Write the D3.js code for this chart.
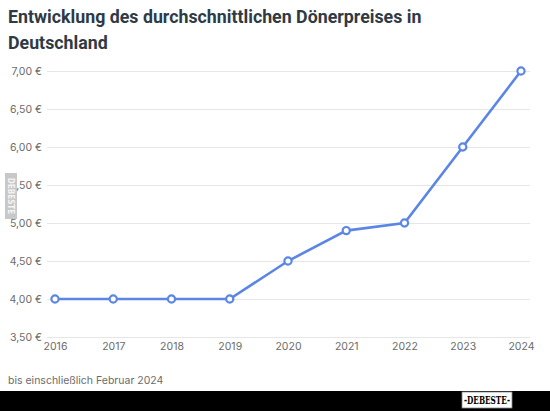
<!DOCTYPE html>
<html><head><meta charset="utf-8">
<script src="https://cdn.jsdelivr.net/npm/d3@7"></script>
<style>body{margin:0;background:#fff;} svg{display:block;}</style>
</head><body>
<svg id="c" width="550" height="411"></svg>
<script>
const years = ["2016","2017","2018","2019","2020","2021","2022","2023","2024"];
const prices = [4.0, 4.0, 4.0, 4.0, 4.5, 4.9, 5.0, 6.0, 7.0];
const yTicks = [3.5, 4.0, 4.5, 5.0, 5.5, 6.0, 6.5, 7.0];
const titleLines = ["Entwicklung des durchschnittlichen Dönerpreises in", "Deutschland"];
const caption = "bis einschließlich Februar 2024";

const svg = d3.select("#c");
const x = d3.scalePoint().domain(years).range([55, 521]);
const y = d3.scaleLinear().domain([3.5, 7.0]).range([337, 71]);
const fmt = v => v.toFixed(2).replace(".", ",") + " €";

svg.append("g").selectAll("text").data(titleLines).join("text")
  .attr("x", 8).attr("y", (d,i) => 23 + i*26)
  .attr("font-family", "Roboto, sans-serif").attr("font-weight", 700)
  .attr("font-size", 17.8).attr("fill", "#2f3a45").text(d => d);

const yAxis = d3.axisLeft(y).tickValues(yTicks).tickFormat(fmt).tickSize(-(530-47)).tickPadding(5);
const gy = svg.append("g").attr("transform", "translate(47,0)").call(yAxis);
gy.select(".domain").remove();
gy.selectAll(".tick line").attr("stroke", "#e6e6e6");
gy.selectAll(".tick text").attr("font-family", "Inter, Roboto, sans-serif").attr("font-size", 10.5).attr("fill", "#6b6b6b");

const xAxis = d3.axisBottom(x).tickSize(0).tickPadding(0);
const gx = svg.append("g").attr("transform", "translate(0,343)").call(xAxis);
gx.select(".domain").remove();
gx.selectAll(".tick text").attr("font-family", "Inter, Roboto, sans-serif").attr("font-size", 10.5).attr("fill", "#6b6b6b").attr("dy", "0.71em");

const data = years.map((d,i) => ({year: d, v: prices[i]}));
svg.append("path").datum(data)
  .attr("fill", "none").attr("stroke", "#5b86e5").attr("stroke-width", 2.6)
  .attr("d", d3.line().x(d => x(d.year)).y(d => y(d.v)));
svg.append("g").selectAll("circle").data(data).join("circle")
  .attr("cx", d => x(d.year)).attr("cy", d => y(d.v)).attr("r", 3.6)
  .attr("fill", "#fff").attr("stroke", "#5b86e5").attr("stroke-width", 2.2);

svg.append("text").attr("x", 8).attr("y", 384)
  .attr("font-family", "Inter, Roboto, sans-serif").attr("font-size", 10.5).attr("fill", "#6b6b6b").text(caption);

svg.append("rect").attr("x", 5).attr("y", 173).attr("width", 12).attr("height", 46).attr("fill", "#c8c8c8");
svg.append("text").attr("transform", "translate(11,196) rotate(90)").attr("text-anchor", "middle").attr("dy", "0.35em")
  .attr("font-family", "DejaVu Sans Condensed, sans-serif").attr("font-weight", 700).attr("font-size", 8).attr("fill", "#f4f4f4").text("DEBESTE");

svg.append("rect").attr("x", 0).attr("y", 391).attr("width", 550).attr("height", 20).attr("fill", "#000");
svg.append("rect").attr("x", 462).attr("y", 392).attr("width", 50).attr("height", 16).attr("fill", "#fff").attr("stroke", "#888").attr("stroke-width", 0.8);
svg.append("text").attr("x", 487).attr("y", 404).attr("text-anchor", "middle").attr("textLength", 46).attr("lengthAdjust", "spacingAndGlyphs")
  .attr("font-family", "DejaVu Serif Condensed, DejaVu Serif, serif").attr("font-weight", 700).attr("font-size", 11).attr("fill", "#000").text("-DEBESTE-");
</script>
</body></html>
